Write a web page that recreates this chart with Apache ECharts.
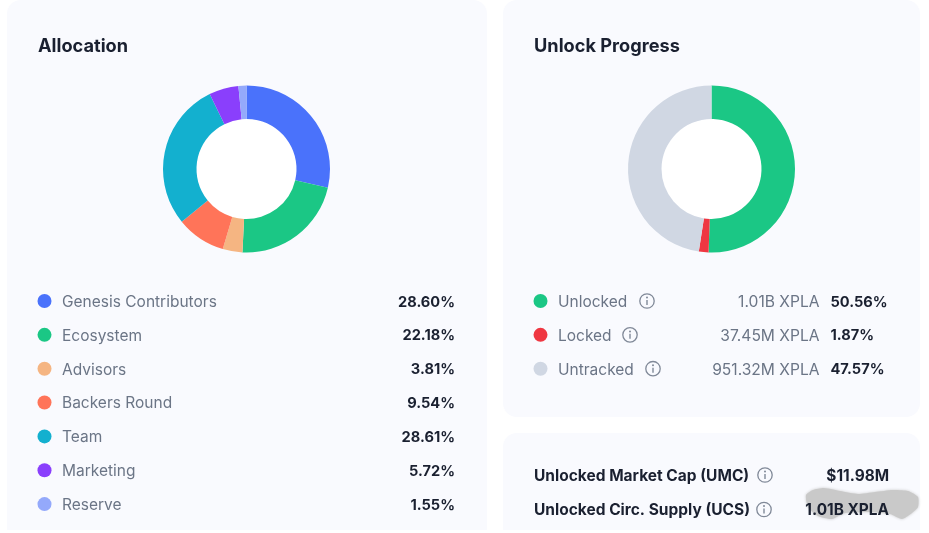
<!DOCTYPE html>
<html><head><meta charset="utf-8">
<style>html,body{margin:0;padding:0;background:#fff}#c{width:929px;height:533px}</style>
<script src="https://cdn.jsdelivr.net/npm/echarts@6/dist/echarts.min.js"></script>
</head><body><div id="c"></div>
<script>
const allocNames = ['Genesis Contributors','Ecosystem','Advisors','Backers Round','Team','Marketing','Reserve'];
const allocValues = [28.60,22.18,3.81,9.54,28.61,5.72,1.55];
const allocColors = ['#4a72fb','#1bc785','#f5b582','#ff7459','#13b0cf','#8a3ffc','#94a9fb'];
const unlockNames = ['Unlocked','Locked','Untracked'];
const unlockAmounts = ['1.01B XPLA','37.45M XPLA','951.32M XPLA'];
const unlockValues = [50.56,1.87,47.57];
const unlockColors = ['#1bc785','#ef3742','#d0d7e3'];
const statNames = ['Unlocked Market Cap (UMC)','Unlocked Circ. Supply (UCS)'];
const statValues = ['$11.98M','1.01B XPLA'];

const FONT = 'Inter, "Noto Sans", sans-serif';
const DARK = '#1a2030', GREY = '#6b7586', PANEL = '#f9fafe';
const g = [];
function card(x,y,w,h,r){g.push({type:'rect',z:0,shape:{x,y,width:w,height:h,r},style:{fill:PANEL}});}
function text(x,y,t,size,weight,fill,align){g.push({type:'text',z:5,x,y,style:{text:t,font:`${weight} ${size}px ${FONT}`,fill,align:align||'left',verticalAlign:'middle'}});}
function dot(x,y,c){g.push({type:'circle',z:5,shape:{cx:x,cy:y,r:7},style:{fill:c}});}
function info(x,y){
  g.push({type:'circle',z:5,shape:{cx:x,cy:y,r:7.2},style:{fill:'none',stroke:'#808998',lineWidth:1.3}});
  g.push({type:'circle',z:5,shape:{cx:x,cy:y-3.4,r:1},style:{fill:'#808998'}});
  g.push({type:'line',z:5,shape:{x1:x,y1:y-1,x2:x,y2:y+4},style:{stroke:'#808998',lineWidth:1.4}});
}
card(7,0,480,560,14); card(503,0,417,417,14); card(503,433,417,120,14);
g.push({type:'rect',z:6,shape:{x:0,y:530,width:929,height:3},style:{fill:'#fff'}});
[246.5,711.5].forEach(cx=>g.push({type:'circle',z:1,shape:{cx,cy:169,r:50},style:{fill:'#fff'}}));

text(38,46.5,'Allocation',18.2,700,DARK);
text(534,46.5,'Unlock Progress',18.2,700,DARK);
allocNames.forEach((n,i)=>{
  const y=301+i*33.85;
  dot(44.5,y,allocColors[i]);
  text(62,y+1.2,n,15.5,400,GREY);
  text(455,y+1.2,allocValues[i].toFixed(2)+'%',14.6,700,DARK,'right');
});
const infoX=[647,630,653];
unlockNames.forEach((n,i)=>{
  const y=301+i*33.85;
  dot(540.5,y,unlockColors[i]);
  text(558,y+1.2,n,15.5,400,GREY);
  info(infoX[i],y);
  text(819.5,y+1.2,unlockAmounts[i],15.6,400,GREY,'right');
  text(830.5,y+1.2,unlockValues[i].toFixed(2)+'%',14.6,700,DARK);
});
g.push({type:'polygon',z:3,
  shape:{smooth:0.2,points:[[806,495],[813,490],[824,488],[840,491],[858,494],[875,492],[893,490],[908,491],[918,497],[918,507],[912,513],[902,519],[890,514],[870,512],[845,513],[832,519],[818,516],[808,507]]},
  style:{fill:'#c9c9c9',shadowBlur:3,shadowColor:'#c9c9c9'}});
statNames.forEach((n,i)=>{
  const y=475+i*34.5;
  text(534,y+1,n,15.5,700,DARK);
  info([765,764][i],y);
  text(889,y+1,statValues[i],15.4,700,DARK,'right');
});

const pie=(name,cx,names,vals,cols)=>({
  type:'pie',name,center:[cx,169],radius:[50,83.5],startAngle:90,clockwise:true,silent:true,z:2,
  label:{show:false},labelLine:{show:false},
  itemStyle:{borderWidth:0},
  data:names.map((n,i)=>({name:n,value:vals[i],itemStyle:{color:cols[i]}}))
});
const chart=echarts.init(document.getElementById('c'),null,{renderer:'canvas'});
chart.setOption({animation:false,backgroundColor:'#fff',graphic:{elements:g},
  series:[pie('Allocation',246.5,allocNames,allocValues,allocColors),
          pie('Unlock Progress',711.5,unlockNames,unlockValues,unlockColors)]});
</script></body></html>
